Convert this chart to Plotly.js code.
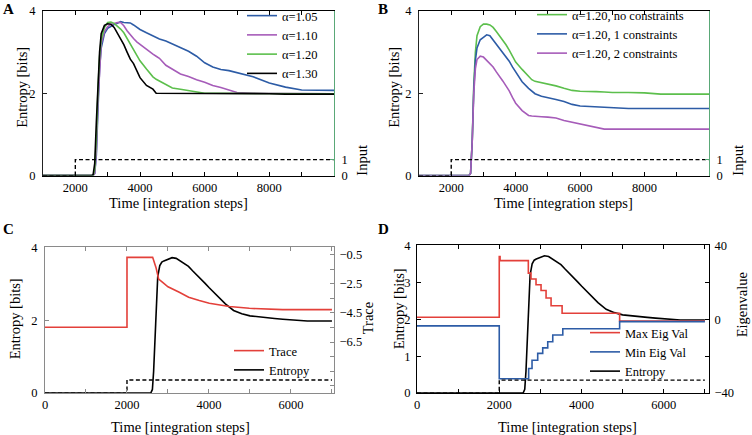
<!DOCTYPE html>
<html>
<head>
<meta charset="utf-8">
<script src="https://cdn.plot.ly/plotly-3.0.1.min.js"></script>
<style>html,body{margin:0;padding:0;background:#fff}#chart{width:752px;height:435px}</style>
</head>
<body>
<div id="chart"></div>
<script>
// ---------- Panel A ----------
const timeA = [1000,2500,2550,2600,2650,2700,2750,2800,2900,3000,3100,3200,3300,3400,3500,3600,3700,3800,3900,4000,4200,4400,4500,4600,4800,5000,5250,5500,5750,6000,6250,6500,6750,7000,7500,8000,8500,9000,9500,10000];
const alpha105 = [0,0,0,0.05,0.5,1.6,2.6,3.1,3.45,3.58,3.63,3.67,3.70,3.74,3.72,3.72,3.71,3.66,3.60,3.55,3.47,3.40,3.36,3.32,3.27,3.20,3.12,3.02,2.90,2.74,2.64,2.58,2.55,2.50,2.40,2.25,2.15,2.08,2.07,2.07];
const alpha110 = [0,0,0,0.05,0.6,1.8,2.7,3.2,3.5,3.62,3.67,3.70,3.72,3.72,3.64,3.52,3.42,3.33,3.25,3.19,3.05,2.95,2.90,2.85,2.68,2.58,2.47,2.41,2.33,2.27,2.19,2.14,2.08,2.02,2.0,2.0,1.99,1.99,1.99,1.99];
const alpha120 = [0,0,0,0.15,0.9,2.1,2.9,3.3,3.6,3.72,3.73,3.70,3.64,3.56,3.47,3.33,3.19,3.06,2.94,2.79,2.59,2.40,2.34,2.30,2.23,2.13,2.10,2.07,2.04,2.0,2.0,2.0,2.0,2.0,2.0,2.0,1.99,1.99,1.99,1.99];
const alpha130 = [0,0,0.02,0.3,1.3,2.4,3.0,3.45,3.65,3.69,3.68,3.60,3.46,3.33,3.18,3.0,2.83,2.72,2.55,2.38,2.19,2.10,2.0,2.0,2.0,2.0,1.99,1.99,1.99,1.99,1.99,1.99,1.99,1.99,1.99,1.99,1.98,1.98,1.98,1.98];
const labelsA = ['α=1.05','α=1.10','α=1.20','α=1.30'];

// ---------- Panel B ----------
const timeB = [1000,2500,2550,2600,2650,2700,2750,2800,2900,3000,3100,3200,3300,3400,3500,3600,3700,3800,3900,4000,4200,4400,4500,4600,4800,5000,5250,5500,5750,6000,6250,6500,6750,7000,7500,8000,8500,9000,9500,10000];
const noConstr = [0,0,0,0.05,0.8,2.2,3.0,3.4,3.62,3.68,3.68,3.66,3.6,3.5,3.4,3.3,3.18,3.05,2.9,2.76,2.58,2.42,2.33,2.29,2.26,2.22,2.18,2.12,2.07,2.05,2.05,2.04,2.03,2.02,2.02,2.01,1.98,1.98,1.98,1.98];
const oneConstr = [0,0,0,0.05,0.8,2.1,2.8,3.1,3.3,3.36,3.42,3.40,3.30,3.20,3.10,2.98,2.90,2.78,2.64,2.52,2.28,2.12,2.05,1.99,1.93,1.90,1.85,1.80,1.73,1.69,1.68,1.67,1.66,1.65,1.63,1.63,1.63,1.63,1.63,1.63];
const twoConstr = [0,0,0,0.05,0.8,2.0,2.6,2.82,2.9,2.88,2.8,2.72,2.64,2.52,2.42,2.30,2.18,2.06,1.90,1.76,1.58,1.46,1.45,1.44,1.43,1.42,1.40,1.34,1.30,1.26,1.22,1.18,1.13,1.13,1.13,1.13,1.13,1.13,1.13,1.13];
const labelsB = ['α=1.20, no constraints','α=1.20, 1 constraints','α=1.20, 2 constraints'];

// ---------- Input step (dashed) ----------
const inputTimeAB = [1000,2000,10000];
const inputTimeCD = [0,2000,7000];
const inputVal = [0,1,1];

// ---------- Panel C ----------
const timeC = [0,2580,2620,2650,2700,2750,2800,2850,2900,3000,3100,3200,3300,3400,3500,3600,3700,3800,3900,4000,4200,4400,4600,4800,5000,5200,5400,5600,5800,6000,6200,6400,7000];
const entropyC = [0,0,0.1,0.6,1.9,3.2,3.5,3.6,3.63,3.67,3.72,3.7,3.63,3.56,3.48,3.36,3.25,3.15,3.02,2.9,2.68,2.45,2.27,2.18,2.12,2.09,2.07,2.05,2.03,2.02,2.0,1.98,1.98];
const timeTrace = [0,2000,2000,2626,2707,2772,2870,3000,3276,3504,3764,4008,4496,4984,5797,7000];
const traceVal = [-5.48,-5.48,-0.68,-0.68,-1.37,-2.17,-2.40,-2.70,-3.08,-3.42,-3.65,-3.83,-4.06,-4.18,-4.27,-4.27];

// ---------- Panel D ----------
const timeMaxEig = [0,2000,2020,2707,2772,2894,3016,3138,3260,3528,4927,7000];
const maxEig = [1.1,34,31.8,25,21.8,18.7,15.6,11.5,7.3,3.3,-0.9,-0.9];
const timeMinEig = [0,2000,2715,2797,2935,3057,3179,3301,3545,4927,7000];
const minEig = [-3.6,-32.2,-26.7,-22.2,-18.5,-15.5,-12.2,-8.5,-5.1,-1.3,-1.3];

const xTicksAB = [2000,3000,4000,5000,6000,7000,8000,9000];
const xTextAB = ['2000','','4000','','6000','','8000',''];
const xTicksCD = [0,1000,2000,3000,4000,5000,6000,7000];
const xTextCD = ['0','','2000','','4000','','6000',''];
const traceTicks = [-0.5,-1.5,-2.5,-3.5,-4.5,-5.5,-6.5,-7.5,-8.5,-9.5];
const traceText = ['−0.5','','−2.5','','−4.5','','−6.5','','',''];

// ---------- style ----------
const FONT = '"Liberation Serif", "Times New Roman", Times, serif';
const BLUE = '#2d5ca6', PURPLE = '#a65cb9', GREEN = '#5cbf4c', RED = '#e3403a', AXGREEN = '#5aa877', GRAY = '#8a8a8a';
const W = 752, H = 435;
const px = v => v / W, py = v => 1 - v / H;
const tickFont = {family: FONT, size: 12.5, color: '#000'};
const TITLE = 14.5;

function line(x, y, color, name, xa, ya, legend, extra) {
  return Object.assign({x: x, y: y, type: 'scatter', mode: 'lines', name: name,
    line: {color: color, width: 1.6}, xaxis: xa, yaxis: ya, legend: legend,
    showlegend: !!name, hoverinfo: 'skip'}, extra || {});
}
const dashed = (x, xa, ya) => ({x: x, y: inputVal, type: 'scatter', mode: 'lines',
  line: {color: '#000', width: 1.4, dash: '4px,2.5px', shape: 'hv'}, xaxis: xa, yaxis: ya,
  showlegend: false, hoverinfo: 'skip'});

const data = [
  // A
  line(timeA, alpha105, BLUE, labelsA[0], 'x', 'y', 'legend'),
  line(timeA, alpha110, PURPLE, labelsA[1], 'x', 'y', 'legend'),
  line(timeA, alpha120, GREEN, labelsA[2], 'x', 'y', 'legend'),
  line(timeA, alpha130, '#000', labelsA[3], 'x', 'y', 'legend'),
  dashed(inputTimeAB, 'x', 'y2'),
  // B
  line(timeB, noConstr, GREEN, labelsB[0], 'x2', 'y3', 'legend2'),
  line(timeB, oneConstr, BLUE, labelsB[1], 'x2', 'y3', 'legend2'),
  line(timeB, twoConstr, PURPLE, labelsB[2], 'x2', 'y3', 'legend2'),
  dashed(inputTimeAB, 'x2', 'y4'),
  // C
  line(timeTrace, traceVal, RED, 'Trace', 'x3', 'y6', 'legend3'),
  line(timeC, entropyC, '#000', 'Entropy', 'x3', 'y5', 'legend3'),
  dashed(inputTimeCD, 'x3', 'y7'),
  // D
  line(timeMaxEig, maxEig, RED, 'Max Eig Val', 'x4', 'y9', 'legend4', {line: {color: RED, width: 1.6, shape: 'hv'}}),
  line(timeMinEig, minEig, BLUE, 'Min Eig Val', 'x4', 'y9', 'legend4', {line: {color: BLUE, width: 1.6, shape: 'hv'}}),
  line(timeC, entropyC, '#000', 'Entropy', 'x4', 'y8', 'legend4'),
  dashed(inputTimeCD, 'x4', 'y10')
];

function xax(dom, anchor, range, tv, tt, color) {
  return {domain: dom, anchor: anchor, range: range, tickvals: tv, ticktext: tt,
    ticks: 'inside', ticklen: 4, tickcolor: color, showline: true, linecolor: color, linewidth: 1,
    mirror: 'ticks', showgrid: false, zeroline: false, tickfont: tickFont, ticklabelstandoff: 0, fixedrange: true};
}
function yax(dom, anchor, range, tv, tt, color, extra) {
  return Object.assign({domain: dom, anchor: anchor, range: range, tickvals: tv, ticktext: tt,
    ticks: 'inside', ticklen: 4, tickcolor: color, showline: true, linecolor: color, linewidth: 1,
    showgrid: false, zeroline: false, tickfont: tickFont, ticklabelstandoff: 4, fixedrange: true}, extra || {});
}
const domAx = [px(43), px(334)], domBx = [px(419), px(709)];
const domCx = [px(45), px(334)], domDx = [px(417), px(709)];
const domABy = [py(175), py(10)], domCy = [py(393), py(247)], domDy = [py(393), py(245)];

const legendBase = {bgcolor: 'rgba(0,0,0,0)', borderwidth: 0, xanchor: 'left', yanchor: 'top',
  font: {family: FONT, size: 12.5, color: '#000'}, tracegroupgap: 0};

function ann(text, x, y, size, angle, bold) {
  return {text: bold ? '<b>' + text + '</b>' : text, xref: 'paper', yref: 'paper', x: px(x), y: py(y),
    xanchor: 'center', yanchor: 'middle', showarrow: false, textangle: angle || 0,
    font: {family: FONT, size: size, color: '#000'}};
}

const layout = {
  width: W, height: H, margin: {l: 0, r: 0, t: 0, b: 0},
  paper_bgcolor: '#fff', plot_bgcolor: 'rgba(0,0,0,0)',
  xaxis: xax(domAx, 'y', [1000, 10000], xTicksAB, xTextAB, '#000'),
  yaxis: yax(domABy, 'x', [0, 4], [0, 2, 4], ['0', '2', '4'], '#222'),
  yaxis2: yax(domABy, 'x', [0, 10.3], [0, 1], ['0', '1'], AXGREEN, {overlaying: 'y', side: 'right'}),
  xaxis2: xax(domBx, 'y3', [1000, 10000], xTicksAB, xTextAB, '#000'),
  yaxis3: yax(domABy, 'x2', [0, 4], [0, 2, 4], ['0', '2', '4'], '#222'),
  yaxis4: yax(domABy, 'x2', [0, 10.3], [0, 1], ['0', '1'], AXGREEN, {overlaying: 'y3', side: 'right'}),
  xaxis3: xax(domCx, 'y5', [0, 7050], xTicksCD, xTextCD, GRAY),
  yaxis5: yax(domCy, 'x3', [0, 4], [0, 2, 4], ['0', '2', '4'], GRAY),
  yaxis6: yax(domCy, 'x3', [-10, 0], traceTicks, traceText, GRAY, {overlaying: 'y5', side: 'right', ticklabelstandoff: 2}),
  yaxis7: {domain: domCy, anchor: 'x3', overlaying: 'y5', range: [0, 11.1], visible: false, fixedrange: true},
  xaxis4: xax(domDx, 'y8', [0, 7100], xTicksCD, xTextCD, '#000'),
  yaxis8: yax(domDy, 'x4', [0, 4], [0, 1, 2, 3, 4], ['0', '1', '2', '3', '4'], '#000', {ticklabelstandoff: 3}),
  yaxis9: yax(domDy, 'x4', [-40, 40], [-40, -20, 0, 20, 40], ['−40', '', '0', '', '40'], '#000', {overlaying: 'y8', side: 'right', ticklabelstandoff: 2}),
  yaxis10: {domain: domDy, anchor: 'x4', overlaying: 'y8', range: [0, 11.4], visible: false, fixedrange: true},
  legend: Object.assign({}, legendBase, {x: px(242), y: py(1)}),
  legend2: Object.assign({}, legendBase, {x: px(532), y: py(-1)}),
  legend3: Object.assign({}, legendBase, {x: px(229), y: py(336)}),
  legend4: Object.assign({}, legendBase, {x: px(585), y: py(318)}),
  annotations: [
    ann('A', 8, 8, 15, 0, true), ann('B', 383, 8, 15, 0, true),
    ann('C', 8, 229, 15, 0, true), ann('D', 383, 229, 15, 0, true),
    ann('Time [integration steps]', 178, 202, TITLE), ann('Time [integration steps]', 563, 202, TITLE),
    ann('Time [integration steps]', 180, 427, TITLE), ann('Time [integration steps]', 567, 427, TITLE),
    ann('Entropy [bits]', 22, 87, TITLE, -90), ann('Entropy [bits]', 394, 87, TITLE, -90),
    ann('Entropy [bits]', 15, 319, TITLE, -90), ann('Entropy [bits]', 399, 309, TITLE, -90),
    ann('Input', 362, 160, TITLE, -90), ann('Input', 738, 160, TITLE, -90),
    ann('Trace', 368, 318, TITLE, -90), ann('Eigenvalue', 742, 305, TITLE, -90)
  ]
};

Plotly.newPlot('chart', data, layout, {displayModeBar: false, staticPlot: true});
</script>
</body>
</html>
